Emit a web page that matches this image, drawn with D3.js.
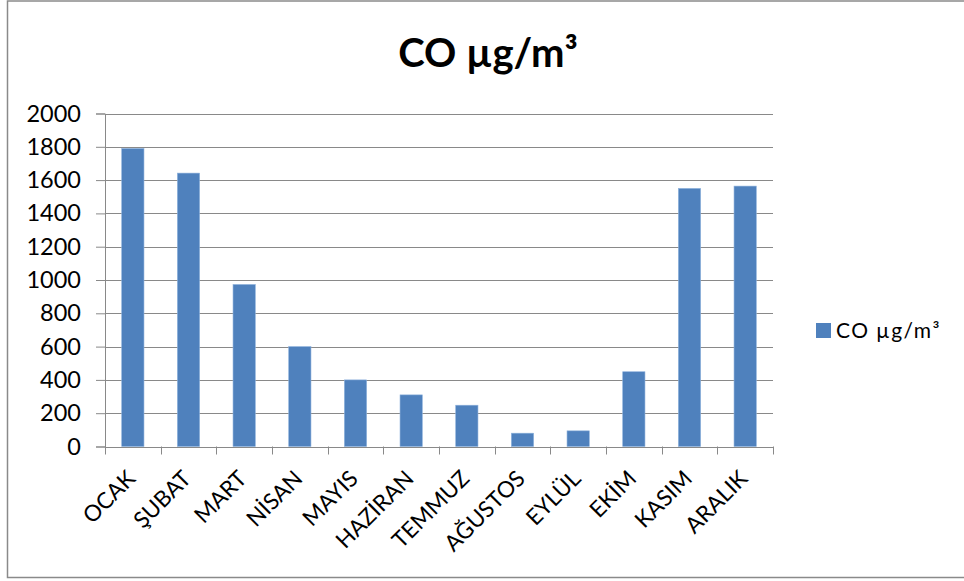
<!DOCTYPE html>
<html>
<head>
<meta charset="utf-8">
<script src="https://cdn.jsdelivr.net/npm/d3@7"></script>
<style>
  body { margin: 0; background: #fff; }
  text { font-family: Lato, "DejaVu Sans", sans-serif; fill: #000; }
</style>
</head>
<body>
<div id="chart"></div>
<script>
var months = ["OCAK", "ŞUBAT", "MART", "NİSAN", "MAYIS", "HAZİRAN", "TEMMUZ", "AĞUSTOS", "EYLÜL", "EKİM", "KASIM", "ARALIK"];
var coValues = [1790, 1642, 973, 600, 400, 310, 248, 80, 94, 449, 1550, 1564];
var yTicks = [0, 200, 400, 600, 800, 1000, 1200, 1400, 1600, 1800, 2000];
var seriesName = "CO µg/m³";

var width = 964, height = 581;
var plot = {left: 105, right: 773, top: 113.5, bottom: 446.5};
var barColor = "#4f81bd";
var gridColor = "#898989";

var svg = d3.select("#chart").append("svg")
    .attr("width", width)
    .attr("height", height);

// chart border
svg.append("rect")
    .attr("x", 7.5)
    .attr("y", 1)
    .attr("width", 980)
    .attr("height", 576.5)
    .attr("fill", "none")
    .attr("stroke", "#8a8a8a")
    .attr("stroke-width", 1.5);

var x = d3.scaleBand()
    .domain(months)
    .range([plot.left, plot.right])
    .paddingInner(0.6)
    .paddingOuter(0.3);

var xEdges = d3.scaleLinear()
    .domain([0, months.length])
    .range([plot.left, plot.right]);

var y = d3.scaleLinear()
    .domain([0, 2000])
    .range([plot.bottom, plot.top]);

// gridlines
svg.append("g")
    .selectAll("line")
    .data(yTicks.slice(1))
    .enter()
    .append("line")
    .attr("x1", plot.left)
    .attr("x2", plot.right)
    .attr("y1", function(d){ return Math.round(y(d)) + 0.5; })
    .attr("y2", function(d){ return Math.round(y(d)) + 0.5; })
    .attr("stroke", gridColor)
    .attr("stroke-width", 1);

// y axis
var yAxis = d3.axisLeft(y)
    .tickValues(yTicks)
    .tickSize(9)
    .tickPadding(15)
    .tickFormat(d3.format("d"));

var yAxisGroup = svg.append("g")
    .attr("transform", "translate(" + plot.left + ",0)")
    .call(yAxis);
yAxisGroup.select(".domain").attr("stroke", gridColor);
yAxisGroup.selectAll(".tick line").attr("stroke", gridColor);
yAxisGroup.selectAll(".tick text")
    .attr("font-size", 23.5)
    .attr("font-family", "Lato");

// bars
svg.append("g")
    .selectAll("rect")
    .data(coValues)
    .enter()
    .append("rect")
    .attr("x", function(d, i){ return x(months[i]); })
    .attr("y", function(d){ return y(d); })
    .attr("width", x.bandwidth())
    .attr("height", function(d){ return y(0) - y(d); })
    .attr("fill", barColor)
    .attr("stroke", "#8db1dc")
    .attr("stroke-width", 0.6);

// x axis: ticks on category edges
var xAxisGroup = svg.append("g");
xAxisGroup.append("line")
    .attr("x1", plot.left)
    .attr("x2", plot.right)
    .attr("y1", Math.round(plot.bottom) + 0.5)
    .attr("y2", Math.round(plot.bottom) + 0.5)
    .attr("stroke", gridColor);
xAxisGroup.selectAll("line.tick")
    .data(d3.range(months.length + 1))
    .enter()
    .append("line")
    .attr("class", "tick")
    .attr("x1", function(d){ return Math.round(xEdges(d)) + 0.5; })
    .attr("x2", function(d){ return Math.round(xEdges(d)) + 0.5; })
    .attr("y1", plot.bottom)
    .attr("y2", plot.bottom + 8)
    .attr("stroke", gridColor);

xAxisGroup.selectAll("text")
    .data(months)
    .enter()
    .append("text")
    .attr("transform", function(d){
        return "translate(" + (x(d) + x.bandwidth() / 2 + 4) + "," + 480 + ") rotate(-45)";
    })
    .attr("text-anchor", "end")
    .attr("font-size", 22.5)
    .text(function(d){ return d; });

// title
svg.append("text")
    .attr("x", 488)
    .attr("y", 67)
    .attr("text-anchor", "middle")
    .attr("font-size", 40)
    .attr("font-weight", "bold")
    .text(seriesName);

// legend
var legend = svg.append("g");
legend.append("rect")
    .attr("x", 816)
    .attr("y", 323)
    .attr("width", 15)
    .attr("height", 15)
    .attr("fill", barColor);
legend.append("text")
    .attr("x", 836)
    .attr("y", 338)
    .attr("font-size", 21)
    .attr("letter-spacing", 1.4)
    .text(seriesName);
</script>
</body>
</html>
